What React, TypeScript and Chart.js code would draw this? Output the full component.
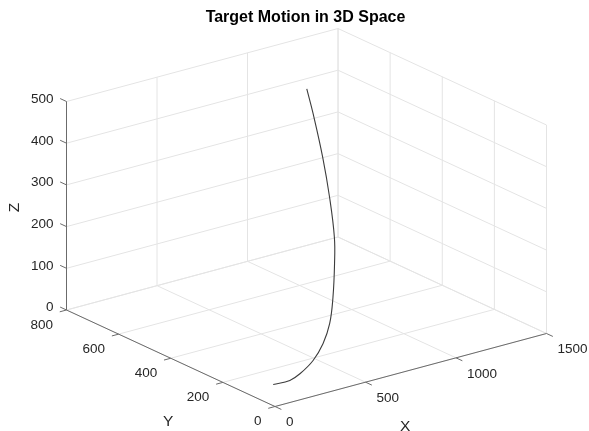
import React, { useEffect, useRef } from "react";
import { Chart, registerables } from "chart.js";

Chart.register(...registerables);

// Axis ticks
const xTicks = [0, 500, 1000, 1500];
const yTicks = [0, 200, 400, 600, 800];
const zTicks = [0, 100, 200, 300, 400, 500];

// Target trajectory samples (X, Y, Z)
const pathX = [160, 249, 309, 402, 484, 564, 650, 735, 809, 889, 962, 1036, 1077];
const pathY = [118, 116, 119, 133, 152, 182, 229, 282, 334, 408, 485, 573, 626];
const pathZ = [0, 0, 8, 25, 50, 80, 120, 175, 215, 280, 345, 415, 455];

const W = 589;
const H = 431;
const X_MAX = 1500;
const Y_MAX = 800;
const Z_MAX = 500;

// Orthographic view of the plot box: origin corner and full-length axis vectors
const VIEW = {
  ox: 275,
  oy: 406.5,
  ex: [271.5, -73],
  ey: [-208.5, -96.5],
  ez: [0, -208.5],
};

type P = { x: number; y: number };

function project(x: number, y: number, z: number): P {
  const u = x / X_MAX;
  const v = y / Y_MAX;
  const w = z / Z_MAX;
  return {
    x: VIEW.ox + u * VIEW.ex[0] + v * VIEW.ey[0] + w * VIEW.ez[0],
    y: VIEW.oy + u * VIEW.ex[1] + v * VIEW.ey[1] + w * VIEW.ez[1],
  };
}

function unit(v: number[], sign: number): P {
  const len = Math.hypot(v[0], v[1]);
  return { x: (sign * v[0]) / len, y: (sign * v[1]) / len };
}

const GRID = "#e4e4e4";
const AXIS = "#6b6b6b";
const TEXT = "#262626";
const FONT = '"Liberation Sans", Arial, Helvetica, sans-serif';
const TICK_LEN = 7;

function seg(a: P, b: P, color: string, order: number, width = 1) {
  return {
    type: "scatter" as const,
    data: [a, b],
    showLine: true,
    borderColor: color,
    borderWidth: width,
    pointRadius: 0,
    pointHoverRadius: 0,
    fill: false,
    clip: false as const,
    order,
  };
}

function buildDatasets() {
  const ds: any[] = [];
  // back wall Y = max
  for (const x of xTicks) ds.push(seg(project(x, Y_MAX, 0), project(x, Y_MAX, Z_MAX), GRID, 3));
  for (const z of zTicks) ds.push(seg(project(0, Y_MAX, z), project(X_MAX, Y_MAX, z), GRID, 3));
  // back wall X = max
  for (const y of yTicks) ds.push(seg(project(X_MAX, y, 0), project(X_MAX, y, Z_MAX), GRID, 3));
  for (const z of zTicks) ds.push(seg(project(X_MAX, 0, z), project(X_MAX, Y_MAX, z), GRID, 3));
  // floor Z = 0
  for (const x of xTicks) ds.push(seg(project(x, 0, 0), project(x, Y_MAX, 0), GRID, 3));
  for (const y of yTicks) ds.push(seg(project(0, y, 0), project(X_MAX, y, 0), GRID, 3));

  // axis lines
  ds.push(seg(project(0, 0, 0), project(X_MAX, 0, 0), AXIS, 2));
  ds.push(seg(project(0, 0, 0), project(0, Y_MAX, 0), AXIS, 2));
  ds.push(seg(project(0, Y_MAX, 0), project(0, Y_MAX, Z_MAX), AXIS, 2));

  // tick marks (pointing outward)
  const dX = unit(VIEW.ey, -1);
  const dY = unit(VIEW.ex, -1);
  const dZ = unit(VIEW.ey, 1);
  for (const x of xTicks) {
    const p = project(x, 0, 0);
    ds.push(seg(p, { x: p.x + dX.x * TICK_LEN, y: p.y + dX.y * TICK_LEN }, AXIS, 2));
  }
  for (const y of yTicks) {
    const p = project(0, y, 0);
    ds.push(seg(p, { x: p.x + dY.x * TICK_LEN, y: p.y + dY.y * TICK_LEN }, AXIS, 2));
  }
  for (const z of zTicks) {
    const p = project(0, Y_MAX, z);
    ds.push(seg(p, { x: p.x + dZ.x * TICK_LEN, y: p.y + dZ.y * TICK_LEN }, AXIS, 2));
  }

  // trajectory
  ds.push({
    type: "scatter" as const,
    data: pathX.map((x, i) => project(x, pathY[i], pathZ[i])),
    showLine: true,
    tension: 0.4,
    borderColor: "#3c3c3c",
    borderWidth: 1.1,
    pointRadius: 0,
    pointHoverRadius: 0,
    fill: false,
    clip: false as const,
    order: 0,
  });
  return ds;
}

const labelsPlugin = {
  id: "boxLabels",
  afterDatasetsDraw(chart: any) {
    const { ctx } = chart;
    const sx = chart.scales.x;
    const sy = chart.scales.y;
    const px = (p: P) => ({ x: sx.getPixelForValue(p.x), y: sy.getPixelForValue(p.y) });
    ctx.save();
    ctx.fillStyle = TEXT;
    const tickSize = 13.5;
    ctx.font = `${tickSize}px ${FONT}`;
    ctx.textBaseline = "alphabetic";
    const capOff = tickSize * 0.36;

    // X tick labels
    ctx.textAlign = "left";
    for (const x of xTicks) {
      const p = px(project(x, 0, 0));
      ctx.fillText(String(x), p.x + 11, p.y + 15 + capOff);
    }
    // Y tick labels
    ctx.textAlign = "right";
    for (const y of yTicks) {
      const p = px(project(0, y, 0));
      ctx.fillText(String(y), p.x - 13.5, p.y + 14 + capOff);
    }
    // Z tick labels
    for (const z of zTicks) {
      const p = px(project(0, Y_MAX, z));
      ctx.fillText(String(z), p.x - 13, p.y - 3.5 + capOff);
    }

    // axis titles
    const titleSize = 15.5;
    ctx.font = `${titleSize}px ${FONT}`;
    ctx.textAlign = "center";
    const tOff = titleSize * 0.36;
    const xt = px(project(X_MAX * 0.5, 0, 0));
    ctx.fillText("X", xt.x - 5.5, xt.y + 55.3 + tOff);
    const yt = px(project(0, Y_MAX * 0.5, 0));
    ctx.fillText("Y", yt.x - 2.5, yt.y + 62.5 + tOff);
    const zt = px(project(0, Y_MAX, Z_MAX * 0.5));
    ctx.save();
    ctx.translate(zt.x - 52.7, zt.y + 1.8);
    ctx.rotate(-Math.PI / 2);
    ctx.fillText("Z", 0, tOff);
    ctx.restore();

    // chart title
    ctx.fillStyle = "#000";
    ctx.font = `bold 16px ${FONT}`;
    ctx.textAlign = "center";
    ctx.fillText("Target Motion in 3D Space", 305.5, 21.7);
    ctx.restore();
  },
};

export default function App() {
  const canvasRef = useRef<HTMLCanvasElement | null>(null);

  useEffect(() => {
    if (!canvasRef.current) return;
    const chart = new Chart(canvasRef.current, {
      type: "scatter",
      data: { datasets: buildDatasets() },
      options: {
        animation: false,
        responsive: false,
        devicePixelRatio: 1,
        events: [],
        layout: { padding: 0 },
        plugins: {
          legend: { display: false },
          tooltip: { enabled: false },
          title: { display: false },
        },
        scales: {
          x: { type: "linear", min: 0, max: W, display: false },
          y: { type: "linear", min: 0, max: H, reverse: true, display: false },
        },
      },
      plugins: [labelsPlugin],
    });
    return () => chart.destroy();
  }, []);

  return (
    <div style={{ position: "absolute", left: 0, top: 0, width: W, height: H, background: "#fff" }}>
      <canvas ref={canvasRef} width={W} height={H} style={{ display: "block" }} />
    </div>
  );
}
